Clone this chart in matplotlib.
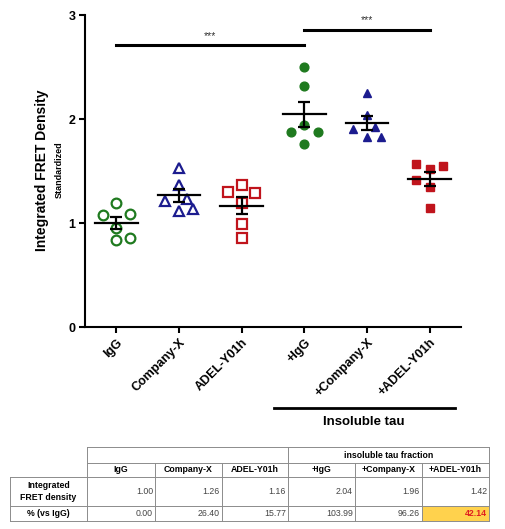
import matplotlib
matplotlib.use("Agg")
import matplotlib.pyplot as plt
from matplotlib.lines import Line2D
from matplotlib.patches import Rectangle
import numpy as np

plt.rcParams['font.family'] = ['Liberation Sans', 'DejaVu Sans']

# ---------------- data ----------------
categories = ["IgG", "Company-X", "ADEL-Y01h", "+IgG", "+Company-X", "+ADEL-Y01h"]
vals_igg = [1.19, 1.08, 1.09, 0.95, 0.84, 0.86]
vals_compx = [1.53, 1.37, 1.21, 1.23, 1.12, 1.13]
vals_adel = [1.37, 1.30, 1.29, 1.19, 0.99, 0.86]
vals_p_igg = [2.50, 2.32, 1.94, 1.875, 1.875, 1.76]
vals_p_compx = [2.25, 2.04, 1.90, 1.92, 1.83, 1.83]
vals_p_adel = [1.57, 1.515, 1.55, 1.415, 1.35, 1.14]
series = [vals_igg, vals_compx, vals_adel, vals_p_igg, vals_p_compx, vals_p_adel]

# scatter slots (column index within each group)
slots = [[0, -1, 1, 0, 0, 1],
         [0, 0, -1, 0.55, 0, 1],
         [0, -1, 1, 0, 0, 0],
         [0, 0, 0, -1, 1, 0],
         [0, 0, -1, 0.55, 0, 1],
         [-1, 0, 1, -1, 0, 0]]

sig_pairs = [(0, 3, 2.71, 2.80), (3, 5, 2.86, 2.95)]

table_cols = ["IgG", "Company-X", "ADEL-Y01h", "+IgG", "+Company-X", "+ADEL-Y01h"]
table_fret = ["1.00", "1.26", "1.16", "2.04", "1.96", "1.42"]
table_pct = ["0.00", "26.40", "15.77", "103.99", "96.26", "42.14"]

# ---------------- style ----------------
green = '#1f7a1f'
blue = '#1c1c8f'
red = '#c0141c'
colors = [green, blue, red, green, blue, red]
markers = ['o', '^', 's', 'o', '^', 's']
filled = [False, False, False, True, True, True]

W, H = 506, 529
fig = plt.figure(figsize=(W / 100, H / 100), dpi=100)
ax = fig.add_axes([85 / W, 1 - 327 / H, (461 - 85) / W, (327 - 15) / H])

slot_w = 0.22
for i, vals in enumerate(series):
    xs = [i + s * slot_w for s in slots[i]]
    if filled[i]:
        ax.plot(xs, vals, linestyle='none', marker=markers[i], ms=6.3,
                mfc=colors[i], mec=colors[i], zorder=3)
    else:
        ax.plot(xs, vals, linestyle='none', marker=markers[i], ms=7,
                mfc='none', mec=colors[i], mew=1.6, zorder=3)
    m = np.mean(vals)
    sem = np.std(vals, ddof=1) / np.sqrt(len(vals))
    ax.plot([i - 0.34, i + 0.34], [m, m], color='black', lw=1.6, zorder=4)
    ax.errorbar([i], [m], yerr=[sem], color='black', lw=1.6, capsize=4,
                capthick=1.6, zorder=4)

for a, b, y, ty in sig_pairs:
    ax.plot([a, b], [y, y], color='black', lw=2.2, clip_on=False, zorder=5)
    ax.text((a + b) / 2, ty, '***', ha='center', va='center', fontsize=7.5,
            color='#333333', clip_on=False)

ax.set_xlim(-0.5, 5.5)
ax.set_ylim(0, 3)
ax.set_yticks([0, 1, 2, 3])
ax.set_yticklabels(['0', '1', '2', '3'], fontweight='bold', fontsize=9)
ax.set_xticks(range(6))
ax.set_xticklabels(categories, rotation=45, ha='right', rotation_mode='anchor',
                   fontweight='bold', fontsize=9)
for s in ['top', 'right']:
    ax.spines[s].set_visible(False)
for s in ['left', 'bottom']:
    ax.spines[s].set_linewidth(1.5)
ax.tick_params(width=1.5, length=4, pad=3)

fig.text(42 / W, 1 - 170 / H, 'Integrated FRET Density', rotation=90,
         ha='center', va='center', fontsize=10, fontweight='bold')
fig.text(59.5 / W, 1 - 170 / H, 'Standardized', rotation=90,
         ha='center', va='center', fontsize=6.5, fontweight='bold')

# Insoluble tau bracket
fig.add_artist(Line2D([274 / W, 455 / W], [1 - 408 / H, 1 - 408 / H],
                      color='black', lw=2))
fig.text(364 / W, 1 - 422 / H, 'Insoluble tau', ha='center', va='center',
         fontsize=9.5, fontweight='bold')

# ---------------- table ----------------
xe = [10, 87, 155, 222, 288, 355, 422, 489]
ye = [447, 463, 477, 506, 521]
gc = '#8c8c8c'


def fx(x):
    return x / W


def fy(y):
    return 1 - y / H


def hline(x0, x1, y, lw=0.7):
    fig.add_artist(Line2D([fx(x0), fx(x1)], [fy(y), fy(y)], color=gc, lw=lw))


def vline(x, y0, y1, lw=0.7):
    fig.add_artist(Line2D([fx(x), fx(x)], [fy(y0), fy(y1)], color=gc, lw=lw))


# highlight cell
fig.add_artist(Rectangle((fx(xe[6]), fy(ye[4])), fx(xe[7]) - fx(xe[6]),
                         fy(ye[3]) - fy(ye[4]), facecolor='#ffd24d',
                         edgecolor='none'))

hline(xe[1], xe[7], ye[0])
hline(xe[1], xe[7], ye[1])
hline(xe[0], xe[7], ye[2])
hline(xe[0], xe[7], ye[3])
hline(xe[0], xe[7], ye[4])
vline(xe[0], ye[2], ye[4])
for k in [1, 4, 7]:
    vline(xe[k], ye[0], ye[4])
for k in [2, 3, 5, 6]:
    vline(xe[k], ye[1], ye[4])

tfs = 6.3
fig.text((fx(xe[4]) + fx(xe[7])) / 2, (fy(ye[0]) + fy(ye[1])) / 2,
         'insoluble tau fraction', ha='center', va='center', fontsize=tfs,
         fontweight='bold')
for j, name in enumerate(table_cols):
    fig.text((fx(xe[j + 1]) + fx(xe[j + 2])) / 2, (fy(ye[1]) + fy(ye[2])) / 2,
             name, ha='center', va='center', fontsize=tfs, fontweight='bold')
fig.text((fx(xe[0]) + fx(xe[1])) / 2, (fy(ye[2]) + fy(ye[3])) / 2,
         'Integrated\nFRET density', ha='center', va='center', fontsize=tfs,
         fontweight='bold', linespacing=1.5)
fig.text((fx(xe[0]) + fx(xe[1])) / 2, (fy(ye[3]) + fy(ye[4])) / 2,
         '% (vs IgG)', ha='center', va='center', fontsize=tfs, fontweight='bold')
for j in range(6):
    fig.text(fx(xe[j + 2] - 2), (fy(ye[2]) + fy(ye[3])) / 2, table_fret[j],
             ha='right', va='center', fontsize=tfs, color='#444444')
    last = (j == 5)
    fig.text(fx(xe[j + 2] - 2), (fy(ye[3]) + fy(ye[4])) / 2, table_pct[j],
             ha='right', va='center', fontsize=tfs,
             color='#e02020' if last else '#444444',
             fontweight='bold' if last else 'normal')

fig.savefig('out.png', dpi=100)
